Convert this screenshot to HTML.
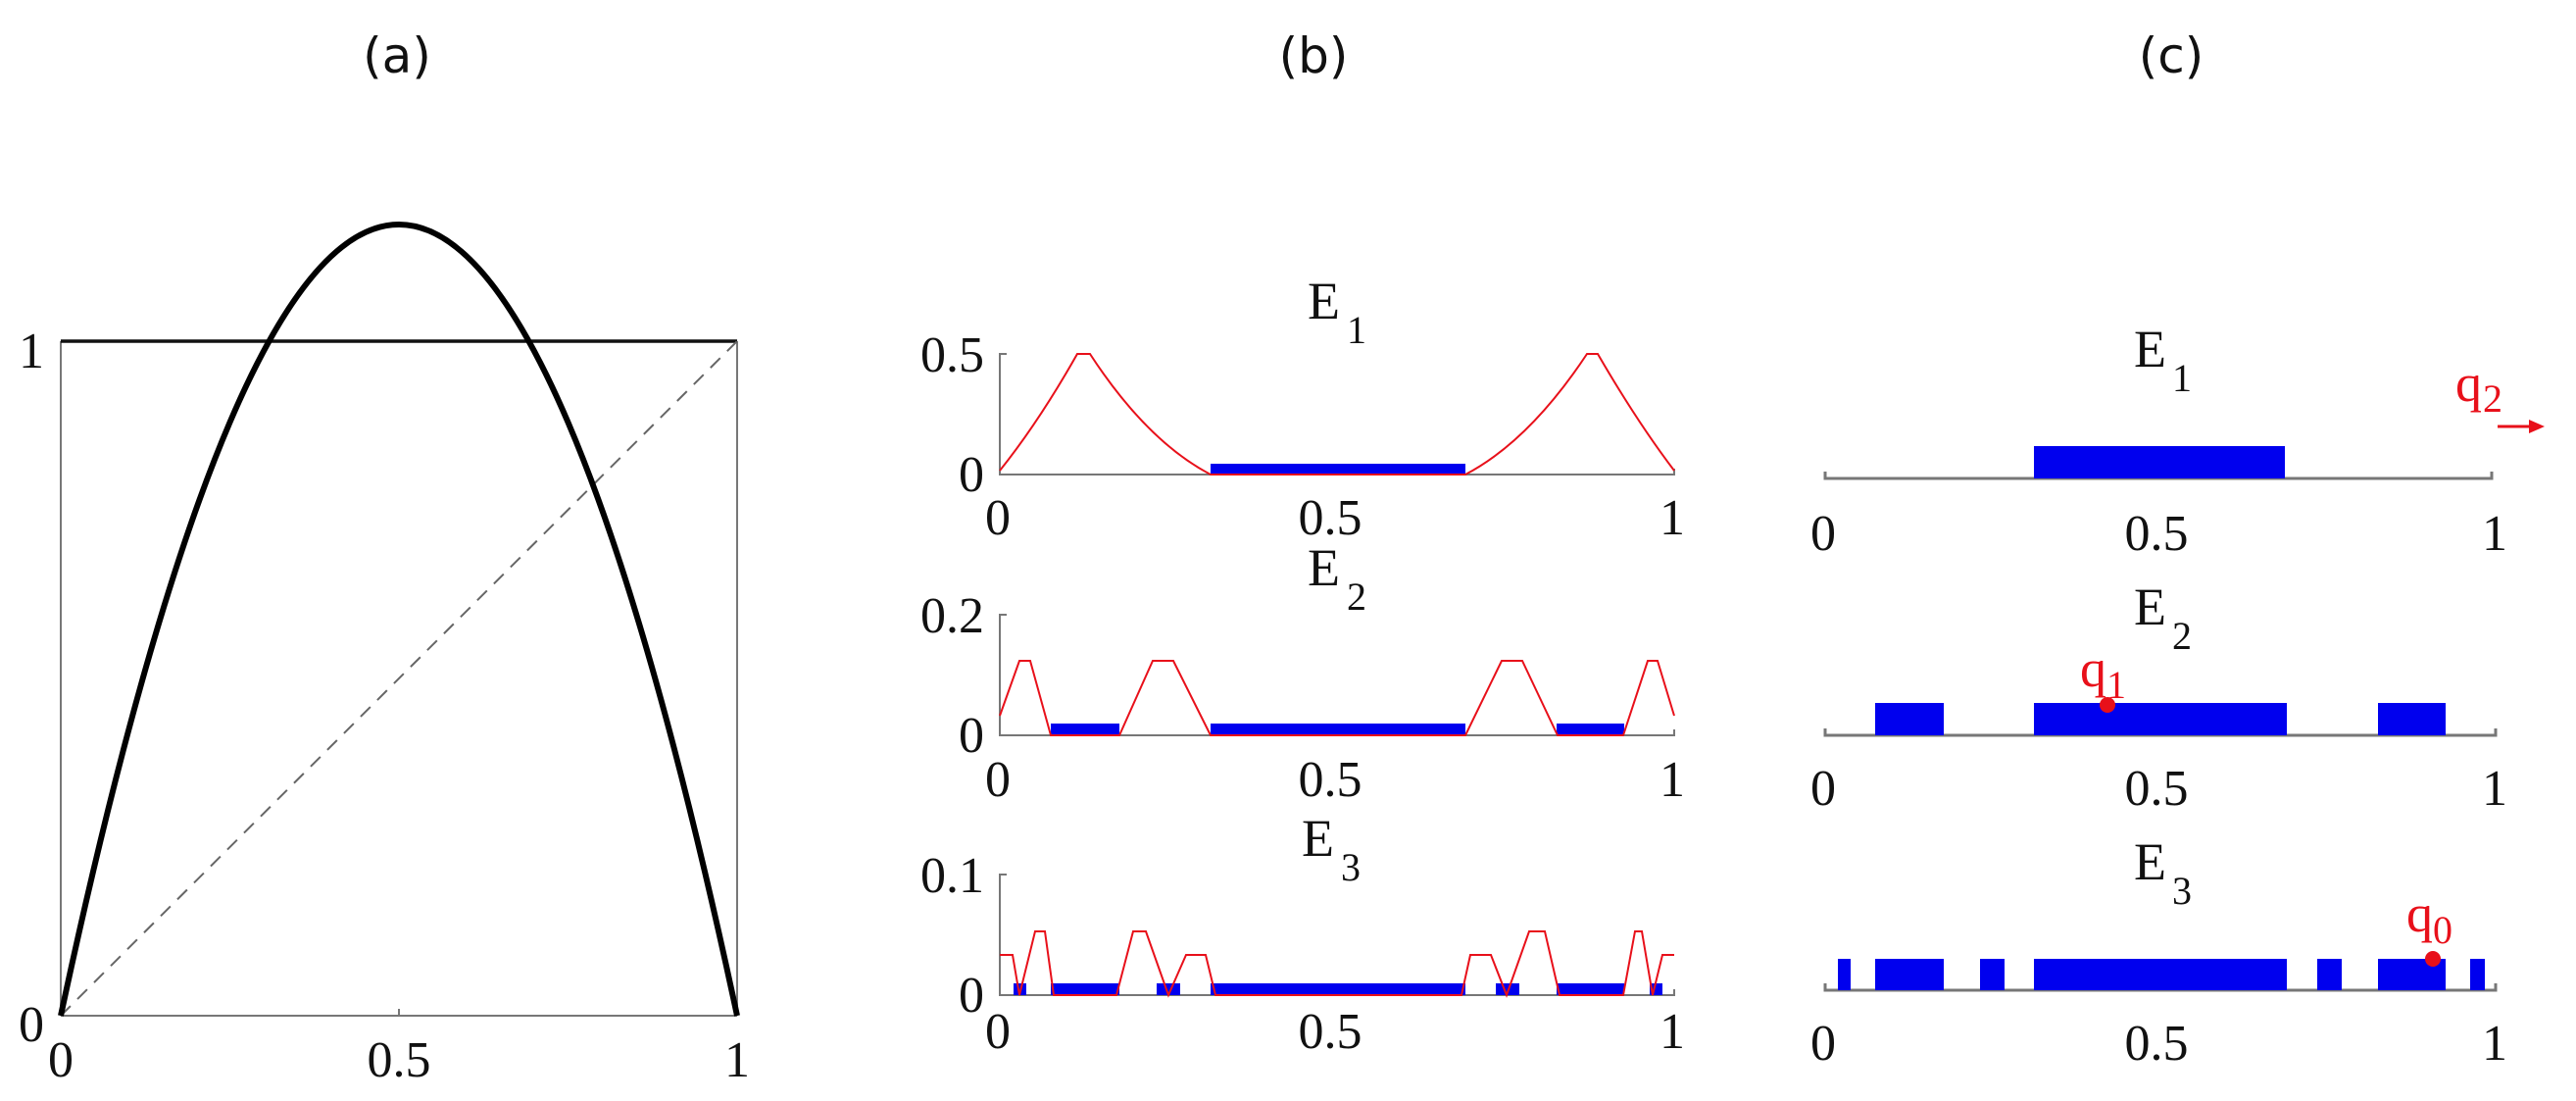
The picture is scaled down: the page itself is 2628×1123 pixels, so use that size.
<!DOCTYPE html>
<html><head><meta charset="utf-8"><style>
html,body{margin:0;padding:0;background:#fff;}
svg{display:block;}
.t{font-family:"Liberation Serif",serif;font-size:52px;fill:#111;}
.e{font-family:"Liberation Serif",serif;font-size:54px;fill:#111;}
.s{font-family:"Liberation Serif",serif;font-size:40px;fill:#111;}
.h{font-family:"DejaVu Sans","Liberation Sans",sans-serif;font-size:50px;fill:#111;}
.r{fill:#e8101a;}
</style></head><body>
<svg width="2628" height="1123" viewBox="0 0 2628 1123" xmlns="http://www.w3.org/2000/svg">
<rect width="2628" height="1123" fill="#fff"/>
<text class="h" x="405" y="74" text-anchor="middle">(a)</text>
<text class="h" x="1340" y="74" text-anchor="middle">(b)</text>
<text class="h" x="2215" y="74" text-anchor="middle">(c)</text>

<line x1="62" y1="348" x2="62" y2="1036" stroke="#777" stroke-width="2"/>
<line x1="752" y1="348" x2="752" y2="1036" stroke="#777" stroke-width="2"/>
<line x1="62" y1="1036" x2="752" y2="1036" stroke="#777" stroke-width="2"/>
<line x1="62" y1="348" x2="752" y2="348" stroke="#111" stroke-width="3.5"/>
<line x1="407" y1="1036" x2="407" y2="1029" stroke="#777" stroke-width="2"/>
<line x1="62" y1="1036" x2="752" y2="348" stroke="#666" stroke-width="2" stroke-dasharray="14,10"/>
<path d="M62,1036 Q407,-578 752,1036" fill="none" stroke="#000" stroke-width="6"/>
<text class="t" x="32" y="375" text-anchor="middle">1</text>
<text class="t" x="32" y="1062" text-anchor="middle">0</text>
<text class="t" x="62" y="1098" text-anchor="middle">0</text>
<text class="t" x="407" y="1098" text-anchor="middle">0.5</text>
<text class="t" x="752" y="1098" text-anchor="middle">1</text>

<g stroke="#777" stroke-width="2" fill="none">
<path d="M1027,361 L1020,361 L1020,484 L1708,484 L1708,478"/>
<path d="M1027,627 L1020,627 L1020,750 L1708,750 L1708,744"/>
<path d="M1027,892 L1020,892 L1020,1015 L1708,1015 L1708,1009"/>
</g>
<g fill="#0000ee">
<rect x="1235" y="473" width="260" height="11"/>
<rect x="1072" y="738" width="70" height="12"/>
<rect x="1235" y="738" width="260" height="12"/>
<rect x="1588" y="738" width="69" height="12"/>
<rect x="1034" y="1003" width="13" height="12"/>
<rect x="1072" y="1003" width="70" height="12"/>
<rect x="1180" y="1003" width="24" height="12"/>
<rect x="1235" y="1003" width="260" height="12"/>
<rect x="1526" y="1003" width="24" height="12"/>
<rect x="1588" y="1003" width="69" height="12"/>
<rect x="1683" y="1003" width="13" height="12"/>
</g>
<g stroke="#e8101a" stroke-width="2" fill="none">
<path d="M1020,480 Q1060,430 1099,361 L1112,361 Q1170,450 1235,484 L1495,484 Q1560,450 1619,361 L1630,361 Q1670,430 1708,480"/>
<path d="M1020,730 L1040,674 L1051,674 L1072,750 L1142,750 L1176,674 L1197,674 L1235,750 L1495,750 L1532,674 L1553,674 L1589,750 L1656,750 L1681,674 L1691,674 L1708,730"/>
<path d="M1020,974 L1033,974 L1040,1015 L1056,950 L1066,950 L1075,1015 L1139,1015 L1156,950 L1169,950 L1192,1015 L1210,974 L1230,974 L1240,1015 L1491,1015 L1500,974 L1521,974 L1537,1015 L1560,950 L1576,950 L1591,1015 L1656,1015 L1668,950 L1675,950 L1686,1015 L1696,974 L1708,974"/>
</g>
<text class="t" x="1004" y="379" text-anchor="end">0.5</text>
<text class="t" x="1004" y="501" text-anchor="end">0</text>
<text class="t" x="1004" y="645" text-anchor="end">0.2</text>
<text class="t" x="1004" y="767" text-anchor="end">0</text>
<text class="t" x="1004" y="910" text-anchor="end">0.1</text>
<text class="t" x="1004" y="1032" text-anchor="end">0</text>
<g class="t" text-anchor="middle">
<text x="1018" y="545">0</text><text x="1357" y="545">0.5</text><text x="1706" y="545">1</text>
<text x="1018" y="812">0</text><text x="1357" y="812">0.5</text><text x="1706" y="812">1</text>
<text x="1018" y="1069">0</text><text x="1357" y="1069">0.5</text><text x="1706" y="1069">1</text>
</g>
<text class="e" x="1334" y="325">E</text><text class="s" x="1374" y="350">1</text>
<text class="e" x="1334" y="597">E</text><text class="s" x="1374" y="622">2</text>
<text class="e" x="1328" y="873">E</text><text class="s" x="1368" y="898">3</text>

<g stroke="#777" stroke-width="3" fill="none">
<path d="M1862,481 L1862,488 L2542,488 L2542,481"/>
<path d="M1862,743 L1862,750 L2546,750 L2546,743"/>
<path d="M1862,1003 L1862,1010 L2546,1010 L2546,1003"/>
</g>
<g fill="#0000ee">
<rect x="2075" y="455" width="256" height="33"/>
<rect x="1913" y="717" width="70" height="33"/>
<rect x="2075" y="717" width="258" height="33"/>
<rect x="2426" y="717" width="69" height="33"/>
<rect x="1875" y="978" width="13" height="32"/>
<rect x="1913" y="978" width="70" height="32"/>
<rect x="2020" y="978" width="25" height="32"/>
<rect x="2075" y="978" width="258" height="32"/>
<rect x="2364" y="978" width="25" height="32"/>
<rect x="2426" y="978" width="69" height="32"/>
<rect x="2520" y="978" width="15" height="32"/>
</g>
<circle cx="2150" cy="719" r="8" fill="#e8101a"/>
<circle cx="2482" cy="978" r="8" fill="#e8101a"/>
<text class="e r" x="2122" y="700">q</text><text class="s r" x="2149" y="712">1</text>
<text class="e r" x="2455" y="950">q</text><text class="s r" x="2482" y="962">0</text>
<text class="e r" x="2505" y="409">q</text><text class="s r" x="2533" y="420">2</text>
<path d="M2548,435 L2588,435" stroke="#e8101a" stroke-width="3"/>
<path d="M2580,428 L2596,435 L2580,442 Z" fill="#e8101a"/>
<text class="e" x="2177" y="374">E</text><text class="s" x="2216" y="399">1</text>
<text class="e" x="2177" y="637">E</text><text class="s" x="2216" y="662">2</text>
<text class="e" x="2177" y="897">E</text><text class="s" x="2216" y="922">3</text>
<g class="t" text-anchor="middle">
<text x="1860" y="561">0</text><text x="2200" y="561">0.5</text><text x="2545" y="561">1</text>
<text x="1860" y="821">0</text><text x="2200" y="821">0.5</text><text x="2545" y="821">1</text>
<text x="1860" y="1081">0</text><text x="2200" y="1081">0.5</text><text x="2545" y="1081">1</text>
</g>
</svg>
</body></html>
